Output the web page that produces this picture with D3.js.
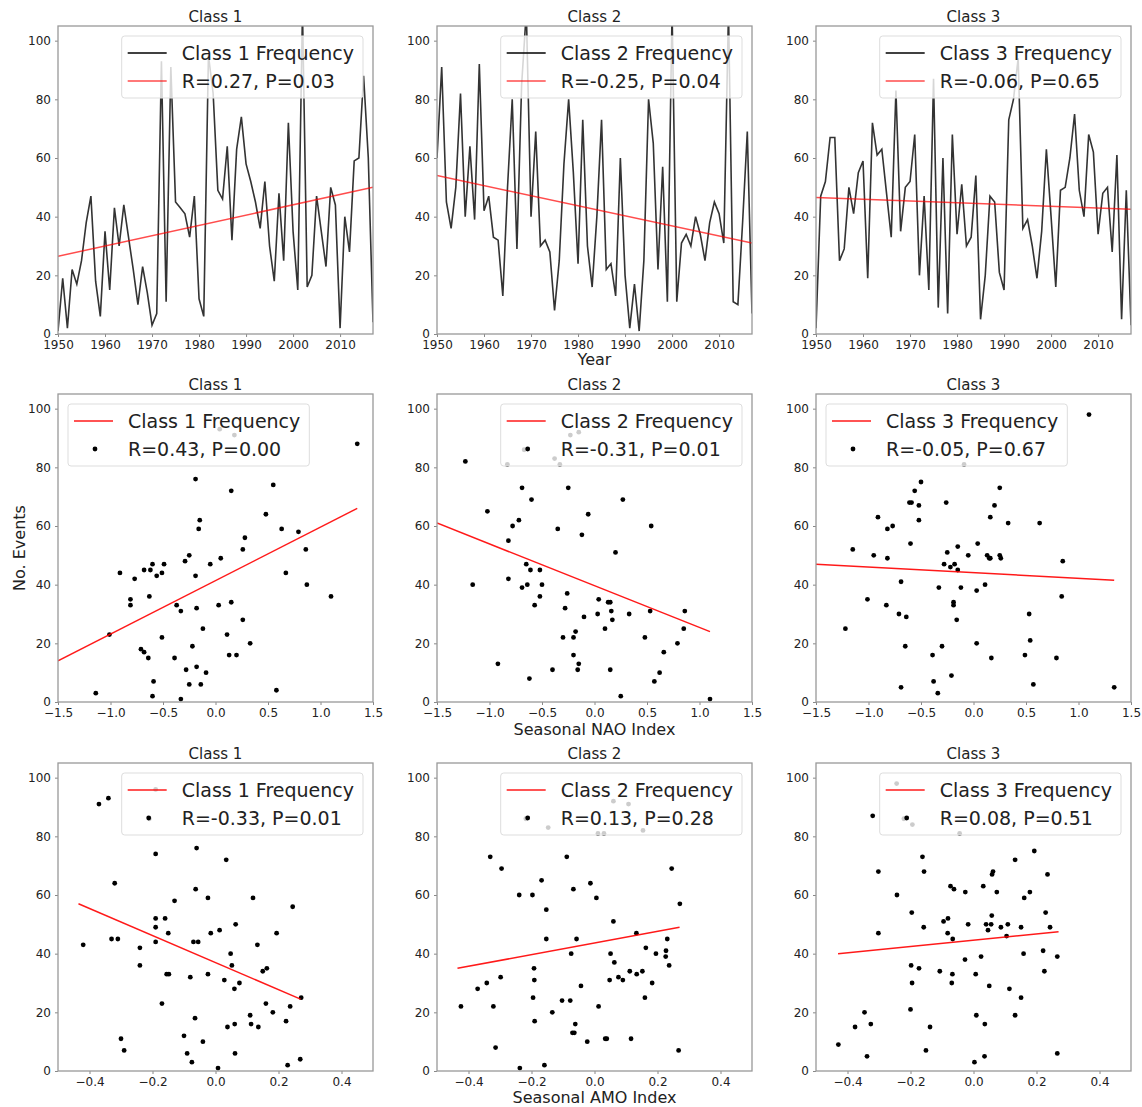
<!DOCTYPE html>
<html lang="en">
<head>
<meta charset="UTF-8">
<title>Class frequency, NAO and AMO</title>
<script src="https://d3js.org/d3.v7.min.js"></script>
<style>
  body { margin: 0; background: #fff; }
  text { font-family: "DejaVu Sans", sans-serif; fill: #222; }
</style>
</head>
<body>
<div id="chart"></div>
<script>
// ---- data ----
var years = d3.range(1950, 2018);
var classNames = ["Class 1", "Class 2", "Class 3"];

var class1Freq = [1, 19, 2, 22, 17, 25, 38, 47, 18, 6,
                  35, 15, 43, 30, 44, 33, 22, 10, 23, 14,
                  3, 7, 93, 11, 91, 45, 43, 41, 33, 47,
                  12, 6, 95, 82, 49, 46, 64, 32, 63, 74,
                  58, 52, 45, 36, 52, 30, 18, 48, 25, 72,
                  35, 15, 110, 16, 20, 47, 35, 23, 50, 44,
                  2, 40, 28, 59, 60, 88, 60, 4];
var class2Freq = [60, 91, 45, 36, 50, 82, 40, 64, 39, 92,
                  42, 47, 33, 32, 13, 50, 80, 29, 85, 110,
                  40, 69, 30, 32, 28, 8, 25, 58, 80, 55,
                  24, 73, 30, 16, 40, 73, 22, 24, 13, 60,
                  20, 2, 17, 1, 25, 80, 65, 22, 57, 11,
                  110, 11, 31, 34, 30, 40, 34, 25, 38, 45,
                  41, 31, 110, 11, 10, 38, 69, 7];
var class3Freq = [2, 47, 52, 67, 67, 25, 29, 50, 41, 55,
                  59, 19, 72, 61, 63, 48, 33, 83, 35, 50,
                  52, 68, 20, 47, 15, 87, 9, 60, 7, 68,
                  34, 51, 30, 33, 54, 5, 20, 47, 45, 21,
                  15, 73, 80, 94, 36, 39, 30, 19, 35, 63,
                  40, 16, 49, 50, 60, 75, 49, 40, 68, 62,
                  34, 48, 50, 28, 61, 5, 49, 3];

// trend line values at 1950 and 2017
var yearTrend = [[26.5, 50], [54, 31], [46.5, 42.5]];
var yearStats = ["R=0.27, P=0.03", "R=-0.25, P=0.04", "R=-0.06, P=0.65"];

// [NAO index, events]
var naoClass1 = [[-1.14,3],[-1.01,23],[-0.91,44],[-0.81,35],[-0.81,33],[-0.77,42],[-0.71,18],[-0.68,17],[-0.68,45],[-0.64,15],
  [-0.63,36],[-0.62,45],[-0.60,47],[-0.60,2],[-0.59,7],[-0.56,43],[-0.51,44],[-0.51,22],[-0.49,47],[-0.39,15],
  [-0.37,33],[-0.33,1],[-0.33,31],[-0.29,48],[-0.28,11],[-0.25,50],[-0.25,6],[-0.22,19],[-0.19,76],[-0.19,43],
  [-0.18,12],[-0.18,32],[-0.16,59],[-0.15,62],[-0.14,6],[-0.12,25],[-0.09,10],[-0.05,47],[0.03,33],[0.05,49],
  [0.11,23],[0.13,16],[0.15,72],[0.15,34],[0.20,16],[0.26,52],[0.26,28],[0.28,56],[0.33,20],[0.48,64],
  [0.55,74],[0.58,4],[0.63,59],[0.67,44],[0.79,58],[0.86,52],[0.87,40],[1.10,36],[1.35,88],[0.04,93],[0.18,91]];
var naoClass2 = [[-1.23,82],[-1.16,40],[-1.02,65],[-0.92,13],[-0.82,55],[-0.82,42],[-0.78,60],[-0.72,62],[-0.69,73],[-0.69,39],
  [-0.67,86],[-0.65,47],[-0.64,40],[-0.62,8],[-0.61,45],[-0.60,69],[-0.57,33],[-0.52,45],[-0.52,36],[-0.50,40],
  [-0.40,11],[-0.35,59],[-0.30,22],[-0.28,32],[-0.26,37],[-0.25,73],[-0.20,22],[-0.20,16],[-0.18,24],[-0.16,11],
  [-0.15,13],[-0.12,57],[-0.10,29],[-0.06,64],[0.03,30],[0.04,35],[0.10,25],[0.13,34],[0.15,34],[0.15,11],
  [0.16,31],[0.17,28],[0.20,51],[0.25,2],[0.27,69],[0.33,30],[0.48,22],[0.53,31],[0.54,60],[0.57,7],
  [0.62,10],[0.66,17],[0.79,20],[0.85,25],[0.86,31],[1.10,1],[-0.83,81],[-0.38,83],[-0.33,81],[-0.23,91],[-0.15,92]];
var naoClass3 = [[-1.22,25],[-1.15,52],[-1.01,35],[-0.95,50],[-0.91,63],[-0.83,33],[-0.82,49],[-0.82,59],[-0.77,60],[-0.71,30],
  [-0.69,41],[-0.69,5],[-0.65,19],[-0.64,29],[-0.61,68],[-0.60,54],[-0.59,68],[-0.56,72],[-0.52,62],[-0.52,67],
  [-0.50,75],[-0.39,16],[-0.38,7],[-0.34,3],[-0.33,39],[-0.30,19],[-0.28,47],[-0.26,68],[-0.25,51],[-0.22,46],
  [-0.21,9],[-0.19,34],[-0.19,33],[-0.18,47],[-0.16,28],[-0.15,45],[-0.15,53],[-0.12,39],[-0.05,50],[0.03,38],
  [0.03,20],[0.04,54],[0.11,40],[0.13,50],[0.15,49],[0.16,63],[0.16,49],[0.17,15],[0.20,67],[0.25,73],
  [0.25,50],[0.26,49],[0.33,61],[0.49,16],[0.53,30],[0.54,21],[0.57,6],[0.63,61],[0.79,15],[0.84,36],
  [0.85,48],[1.10,98],[1.34,5],[-0.09,81]];
var naoTrend = [[[-1.5, 14], [1.35, 66]], [[-1.5, 61], [1.1, 24]], [[-1.5, 47], [1.34, 41.5]]];
var naoStats = ["R=0.43, P=0.00", "R=-0.31, P=0.01", "R=-0.05, P=0.67"];

// [AMO index, events]
var amoClass1 = [[-0.42,43],[-0.37,91],[-0.34,93],[-0.33,45],[-0.32,64],[-0.31,45],[-0.30,11],[-0.29,7],[-0.24,42],[-0.24,36],
  [-0.21,86],[-0.19,74],[-0.19,52],[-0.19,49],[-0.19,44],[-0.17,23],[-0.16,52],[-0.15,47],[-0.155,33],[-0.148,33],
  [-0.13,58],[-0.10,12],[-0.09,6],[-0.08,32],[-0.075,3],[-0.07,44],[-0.065,18],[-0.063,62],[-0.06,76],[-0.055,44],
  [-0.04,10],[-0.024,59],[-0.024,33],[-0.015,47],[0.008,1],[0.013,48],[0.028,31],[0.034,72],[0.038,15],[0.048,40],
  [0.052,36],[0.06,28],[0.061,16],[0.062,6],[0.064,50],[0.076,30],[0.11,19],[0.113,16],[0.119,59],[0.133,43],
  [0.136,15],[0.15,34],[0.163,35],[0.16,23],[0.182,20],[0.194,47],[0.224,17],[0.229,2],[0.237,22],[0.245,56],
  [0.269,4],[0.272,25],[-0.19,96]];
var amoClass2 = [[-0.424,22],[-0.371,28],[-0.342,30],[-0.331,73],[-0.321,22],[-0.314,8],[-0.298,32],[-0.295,69],[-0.239,60],[-0.237,1],
  [-0.218,86],[-0.197,60],[-0.192,35],[-0.191,31],[-0.195,25],[-0.19,17],[-0.168,65],[-0.159,2],[-0.153,55],[-0.153,45],
  [-0.134,20],[-0.103,24],[-0.088,73],[-0.077,24],[-0.074,40],[-0.07,13],[-0.064,13],[-0.067,62],[-0.061,16],[-0.057,45],
  [-0.043,29],[-0.023,10],[-0.013,64],[0.006,59],[0.013,22],[0.034,11],[0.039,11],[0.048,31],[0.051,40],[0.06,51],
  [0.063,37],[0.076,32],[0.09,31],[0.112,34],[0.116,11],[0.134,33],[0.133,47],[0.152,34],[0.16,25],[0.163,42],
  [0.183,30],[0.195,40],[0.227,41],[0.226,39],[0.231,45],[0.237,36],[0.245,69],[0.267,7],[0.271,57],[-0.147,83],
  [0.011,81],[0.03,81],[0.06,92],[0.108,91],[0.154,82]];
var amoClass3 = [[-0.429,9],[-0.376,15],[-0.346,20],[-0.338,5],[-0.326,16],[-0.32,87],[-0.302,68],[-0.302,47],[-0.243,60],[-0.221,86],
  [-0.2,21],[-0.198,36],[-0.196,54],[-0.195,30],[-0.173,35],[-0.162,73],[-0.158,49],[-0.157,68],[-0.151,7],[-0.138,15],
  [-0.107,34],[-0.095,51],[-0.081,52],[-0.082,47],[-0.073,63],[-0.069,30],[-0.067,33],[-0.066,45],[-0.062,62],[-0.027,38],
  [-0.026,61],[-0.017,50],[0.003,3],[0.007,33],[0.009,19],[0.024,39],[0.031,63],[0.035,5],[0.036,16],[0.04,50],
  [0.046,48],[0.05,29],[0.056,50],[0.058,53],[0.059,67],[0.062,68],[0.074,61],[0.087,49],[0.105,46],[0.109,50],
  [0.114,28],[0.132,72],[0.132,19],[0.151,49],[0.151,25],[0.159,40],[0.161,59],[0.179,61],[0.193,75],[0.221,41],
  [0.225,34],[0.229,54],[0.235,67],[0.243,49],[0.266,39],[0.266,6],[-0.244,98],[-0.194,84],[-0.044,81]];
var amoTrend = [[[-0.435, 57], [0.27, 24.5]], [[-0.435, 35], [0.27, 49]], [[-0.43, 40], [0.27, 47.5]]];
var amoStats = ["R=-0.33, P=0.01", "R=0.13, P=0.28", "R=0.08, P=0.51"];

var yTicks = [0, 20, 40, 60, 80, 100];
var yearTicks = [1950, 1960, 1970, 1980, 1990, 2000, 2010];
var naoTicks = [-1.5, -1.0, -0.5, 0.0, 0.5, 1.0, 1.5];
var amoTicks = [-0.4, -0.2, 0.0, 0.2, 0.4];

// ---- layout ----
var width = 1142, height = 1107;
var colLeft = [58, 437, 816], rowTop = [26, 394, 763];
var axW = 315, axH = 308;

var svg = d3.select("#chart").append("svg")
    .attr("width", width)
    .attr("height", height);

function makePanel(row, col, xDomain, xTicks, xFmt) {
    var g = svg.append("g")
        .attr("transform", "translate(" + colLeft[col] + "," + rowTop[row] + ")");
    var x = d3.scaleLinear().domain(xDomain).range([0, axW]);
    var y = d3.scaleLinear().domain([0, 105]).range([axH, 0]);

    var clipId = "clip-" + row + "-" + col;
    g.append("clipPath").attr("id", clipId)
        .append("rect").attr("width", axW).attr("height", axH);

    var xa = g.append("g")
        .attr("transform", "translate(0," + axH + ")")
        .call(d3.axisBottom(x).tickValues(xTicks).tickSize(3).tickPadding(3).tickFormat(xFmt));
    var ya = g.append("g")
        .call(d3.axisLeft(y).tickValues(yTicks).tickSize(3).tickPadding(4));
    [xa, ya].forEach(function(a) {
        a.select(".domain").remove();
        a.selectAll("line").attr("stroke", "#888");
        a.selectAll("text").style("font-size", "12px").attr("fill", "#222");
    });

    g.append("text")
        .attr("x", axW / 2)
        .attr("y", -4)
        .attr("text-anchor", "middle")
        .style("font-size", "15px")
        .text(classNames[col]);

    var plot = g.append("g").attr("clip-path", "url(#" + clipId + ")");
    return {g: g, plot: plot, x: x, y: y};
}

function drawFrame(p) {
    p.g.append("rect")
        .attr("width", axW).attr("height", axH)
        .attr("fill", "none")
        .attr("stroke", "#999")
        .attr("stroke-width", 1.3);
}

function drawLegend(p, side, entries) {
    var lg = p.g.append("g");
    var box = lg.append("rect")
        .attr("rx", 3)
        .attr("fill", "#fff")
        .attr("fill-opacity", 0.8)
        .attr("stroke", "#ddd");
    var maxLen = 0;
    entries.forEach(function(e, i) {
        var cy = 17 + i * 28;
        if (e.type === "line") {
            lg.append("line")
                .attr("x1", 6).attr("x2", 45)
                .attr("y1", cy).attr("y2", cy)
                .attr("stroke", e.color)
                .attr("stroke-opacity", e.opacity)
                .attr("stroke-width", 1.5);
        } else {
            lg.append("circle")
                .attr("cx", 27).attr("cy", cy)
                .attr("r", 2.4)
                .attr("fill", "#000");
        }
        var t = lg.append("text")
            .attr("x", 60).attr("y", cy + 7)
            .style("font-size", "19px")
            .text(e.label);
        maxLen = Math.max(maxLen, t.node().getComputedTextLength());
    });
    var w = 60 + maxLen + 9, h = 62;
    box.attr("width", w).attr("height", h);
    var x0 = side === "right" ? axW - 10 - w : 10;
    lg.attr("transform", "translate(" + x0 + ",10)");
}

var fmtYear = d3.format("d"), fmtIdx = d3.format(".1f");

// ---- top row: time series ----
[class1Freq, class2Freq, class3Freq].forEach(function(series, c) {
    var p = makePanel(0, c, [1950, 2017], yearTicks, fmtYear);
    var line = d3.line()
        .x(function(d, i) { return p.x(years[i]); })
        .y(function(d) { return p.y(d); });
    p.plot.append("path")
        .datum(series)
        .attr("fill", "none")
        .attr("stroke", "#333")
        .attr("stroke-width", 1.6)
        .attr("d", line);
    p.plot.append("line")
        .attr("x1", p.x(1950)).attr("y1", p.y(yearTrend[c][0]))
        .attr("x2", p.x(2017)).attr("y2", p.y(yearTrend[c][1]))
        .attr("stroke", "red")
        .attr("stroke-opacity", 0.7)
        .attr("stroke-width", 1.5);
    drawFrame(p);
    drawLegend(p, "right", [
        {type: "line", color: "#000", opacity: 1, label: classNames[c] + " Frequency"},
        {type: "line", color: "red", opacity: 0.7, label: yearStats[c]}
    ]);
});

// ---- scatter rows ----
function scatterRow(row, sets, trends, stats, domain, ticks, sides) {
    sets.forEach(function(pts, c) {
        var p = makePanel(row, c, domain, ticks, fmtIdx);
        p.plot.selectAll(".dot")
            .data(pts)
            .enter().append("circle")
            .attr("class", "dot")
            .attr("cx", function(d) { return p.x(d[0]); })
            .attr("cy", function(d) { return p.y(d[1]); })
            .attr("r", 2.4)
            .attr("fill", "#000");
        p.plot.append("line")
            .attr("x1", p.x(trends[c][0][0])).attr("y1", p.y(trends[c][0][1]))
            .attr("x2", p.x(trends[c][1][0])).attr("y2", p.y(trends[c][1][1]))
            .attr("stroke", "red")
            .attr("stroke-opacity", 0.9)
            .attr("stroke-width", 1.5);
        drawFrame(p);
        drawLegend(p, sides[c], [
            {type: "line", color: "red", opacity: 0.9, label: classNames[c] + " Frequency"},
            {type: "dot", label: stats[c]}
        ]);
    });
}

scatterRow(1, [naoClass1, naoClass2, naoClass3], naoTrend, naoStats, [-1.5, 1.5], naoTicks, ["left", "right", "left"]);
scatterRow(2, [amoClass1, amoClass2, amoClass3], amoTrend, amoStats, [-0.5, 0.5], amoTicks, ["right", "right", "right"]);

// ---- axis labels ----
svg.append("text")
    .attr("x", colLeft[1] + axW / 2).attr("y", 365)
    .attr("text-anchor", "middle")
    .style("font-size", "16px")
    .text("Year");
svg.append("text")
    .attr("x", colLeft[1] + axW / 2).attr("y", 735)
    .attr("text-anchor", "middle")
    .style("font-size", "16px")
    .text("Seasonal NAO Index");
svg.append("text")
    .attr("x", colLeft[1] + axW / 2).attr("y", 1103)
    .attr("text-anchor", "middle")
    .style("font-size", "16px")
    .text("Seasonal AMO Index");
svg.append("text")
    .attr("transform", "translate(25," + (rowTop[1] + axH / 2) + ") rotate(-90)")
    .attr("text-anchor", "middle")
    .style("font-size", "16px")
    .text("No. Events");
</script>
</body>
</html>
